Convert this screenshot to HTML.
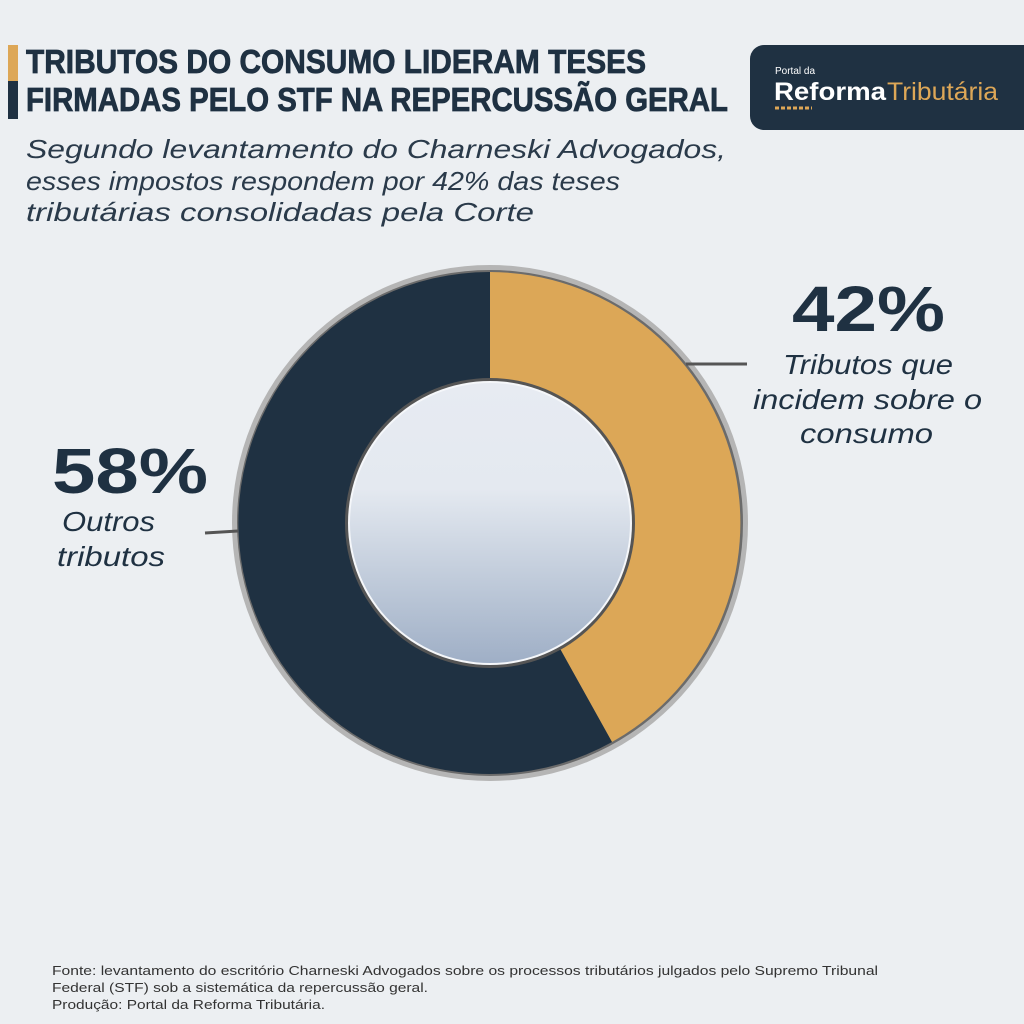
<!DOCTYPE html>
<html><head><meta charset="utf-8"><style>
html,body{margin:0;padding:0;background:#eceff2;}
svg{display:block;font-family:"Liberation Sans",sans-serif;}
</style></head><body>
<svg width="1024" height="1024" viewBox="0 0 1024 1024" xmlns="http://www.w3.org/2000/svg">
<defs>
<linearGradient id="hole" x1="0" y1="0" x2="0" y2="1">
<stop offset="0" stop-color="#e7ebf2"/><stop offset="0.38" stop-color="#e4e9f0"/><stop offset="1" stop-color="#9fafc6"/>
</linearGradient>
</defs>
<rect width="1024" height="1024" fill="#eceff2"/>
<rect x="8" y="45" width="10" height="36" fill="#dda757"/>
<rect x="8" y="81" width="10" height="38" fill="#1f3142"/>
<text x="26" y="73" font-size="33" font-weight="bold" fill="#1f3142" stroke="#1f3142" stroke-width="0.8" textLength="620" lengthAdjust="spacingAndGlyphs">TRIBUTOS DO CONSUMO LIDERAM TESES</text>
<text x="26" y="111" font-size="33" font-weight="bold" fill="#1f3142" stroke="#1f3142" stroke-width="0.8" textLength="702" lengthAdjust="spacingAndGlyphs">FIRMADAS PELO STF NA REPERCUSSÃO GERAL</text>
<rect x="750" y="45" width="290" height="85" rx="14" fill="#1f3142"/>
<text x="775" y="74" font-size="10" fill="#ffffff">Portal da</text>
<text x="774" y="100" font-size="25" font-weight="bold" fill="#ffffff" textLength="112" lengthAdjust="spacingAndGlyphs">Reforma</text>
<text x="887" y="100" font-size="25" fill="#dda757" textLength="111" lengthAdjust="spacingAndGlyphs">Tributária</text>
<line x1="775" y1="108" x2="812" y2="108" stroke="#dda757" stroke-width="3" stroke-dasharray="4,2"/>
<g font-size="26" font-style="italic" fill="#2a3a4a">
<text x="26" y="158" textLength="700" lengthAdjust="spacingAndGlyphs">Segundo levantamento do Charneski Advogados,</text>
<text x="26" y="190" textLength="594" lengthAdjust="spacingAndGlyphs">esses impostos respondem por 42% das teses</text>
<text x="26" y="221" textLength="508" lengthAdjust="spacingAndGlyphs">tributárias consolidadas pela Corte</text>
</g>
<!-- donut -->
<circle cx="490" cy="523" r="258" fill="#b5b5b5"/>
<circle cx="490" cy="523" r="253" fill="#6b6b6b"/>
<path d="M490 523 L490 272 A251 251 0 0 1 612 742 Z" fill="#dca757"/>
<path d="M490 523 L612 742 A251 251 0 1 1 490 272 Z" fill="#1f3142"/>
<circle cx="490" cy="523" r="145" fill="#555"/>
<circle cx="490" cy="523" r="142" fill="#f5f7fa"/>
<circle cx="490" cy="523" r="140" fill="url(#hole)"/>
<line x1="686" y1="364" x2="747" y2="364" stroke="#555" stroke-width="3"/>
<line x1="205" y1="533" x2="238" y2="531" stroke="#555" stroke-width="3"/>
<text x="792" y="331" font-size="64" font-weight="bold" fill="#1f3142" textLength="153" lengthAdjust="spacingAndGlyphs">42%</text>
<g font-size="28" font-style="italic" fill="#1f3142">
<text x="783" y="374" textLength="170" lengthAdjust="spacingAndGlyphs">Tributos que</text>
<text x="753" y="409" textLength="229" lengthAdjust="spacingAndGlyphs">incidem sobre o</text>
<text x="800" y="443" textLength="133" lengthAdjust="spacingAndGlyphs">consumo</text>
</g>
<text x="52" y="493" font-size="64" font-weight="bold" fill="#1f3142" textLength="156" lengthAdjust="spacingAndGlyphs">58%</text>
<g font-size="28" font-style="italic" fill="#1f3142">
<text x="62" y="531" textLength="93" lengthAdjust="spacingAndGlyphs">Outros</text>
<text x="57" y="566" textLength="108" lengthAdjust="spacingAndGlyphs">tributos</text>
</g>
<g font-size="13" fill="#333">
<text x="52" y="975" textLength="826" lengthAdjust="spacingAndGlyphs">Fonte: levantamento do escritório Charneski Advogados sobre os processos tributários julgados pelo Supremo Tribunal</text>
<text x="52" y="992" textLength="376" lengthAdjust="spacingAndGlyphs">Federal (STF) sob a sistemática da repercussão geral.</text>
<text x="52" y="1009" textLength="273" lengthAdjust="spacingAndGlyphs">Produção: Portal da Reforma Tributária.</text>
</g>
</svg>
</body></html>
